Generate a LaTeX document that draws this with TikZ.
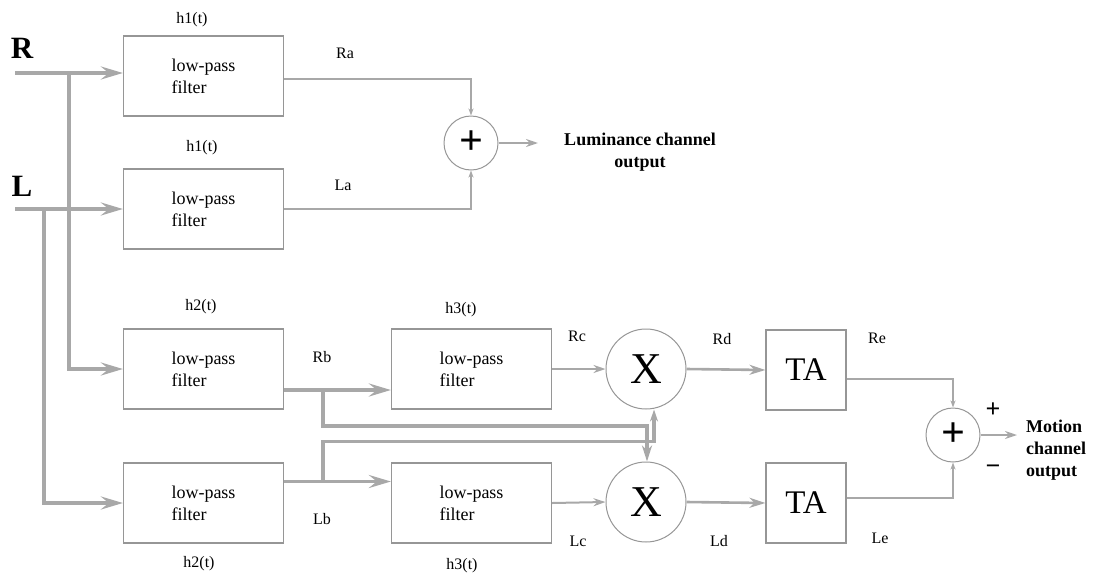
\documentclass[tikz,border=0pt]{standalone}
\usepackage{fontspec}
\setmainfont{Liberation Serif}
\usetikzlibrary{positioning,calc,arrows.meta}
\definecolor{wiregray}{RGB}{168,168,168}
\definecolor{boxgray}{RGB}{150,150,150}
\tikzset{
  lpf/.style={draw=boxgray, line width=1.2pt, minimum width=160pt, minimum height=80pt,
    inner sep=0pt, align=left, font=\fontsize{18}{22}\selectfont},
  tabox/.style={draw=boxgray, line width=1.2pt, minimum width=80pt, minimum height=80pt,
    inner sep=0pt, font=\fontsize{33}{33}\selectfont},
  mulnode/.style={circle, draw=boxgray, line width=1pt, minimum size=80pt, inner sep=0pt,
    font=\fontsize{44}{44}\selectfont},
  sumnode/.style={circle, draw=boxgray, line width=1pt, minimum size=54pt, inner sep=0pt,
    font=\fontsize{42}{42}\selectfont\bfseries},
  lbl/.style={font=\fontsize{16}{16}\selectfont, inner sep=0pt},
  inlbl/.style={font=\fontsize{31}{31}\selectfont\bfseries, inner sep=0pt},
  outlbl/.style={font=\fontsize{18}{22}\selectfont\bfseries, inner sep=0pt},
  signlbl/.style={font=\fontsize{26}{26}\selectfont\bfseries, inner sep=0pt},
  pipe/.style={draw=wiregray, line width=3.5pt},
  midwire/.style={draw=wiregray, line width=2.6pt},
  wire/.style={draw=wiregray, line width=2pt},
  fine/.style={draw=wiregray, line width=1.4pt},
  bigtip/.style={-{Stealth[length=22pt,width=13pt,inset=8pt]}},
  midtip/.style={-{Stealth[length=16pt,width=10pt,inset=5pt]}},
  smalltip/.style={-{Stealth[length=12pt,width=8pt,inset=4pt]}},
  tinytip/.style={-{Stealth[length=7pt,width=5pt,inset=2pt]}}
}

\begin{document}
\begin{tikzpicture}[x=1pt,y=-1pt]
    \useasboundingbox (0,0) rectangle (1094,576);

    % Inputs
    \node[inlbl] (inR) at (22,48) {R};
    \node[inlbl] (inL) at (22,186) {L};
    \coordinate (rstart) at (15,73);
    \coordinate (lstart) at (15,209);
    \coordinate (rsplit) at (69,73);
    \coordinate (lsplit) at (44,209);

    % Filter boxes
    \node[lpf] (lpfR1) at (203.5,76) {low-pass\\filter};
    \node[lpf] (lpfL1) at (203.5,209) {low-pass\\filter};
    \node[lpf] (lpfR2) at (203.5,369) {low-pass\\filter};
    \node[lpf] (lpfL2) at (203.5,503) {low-pass\\filter};
    \node[lpf] (lpfR3) at (471.5,369) {low-pass\\filter};
    \node[lpf] (lpfL3) at (471.5,503) {low-pass\\filter};

    % Multipliers and temporal averaging
    \node[mulnode] (mulR) at (646,369) {X};
    \node[mulnode] (mulL) at (646,502) {X};
    \node[tabox] (taR) at (806,370) {TA};
    \node[tabox] (taL) at (806,503) {TA};

    % Adders
    \node[sumnode] (sumLum) at (471,143) {+};
    \node[sumnode] (sumMot) at (953,435) {+};

    % Filter names
    \node[lbl] (h1R) at (192,20) {h1(t)};
    \node[lbl] (h1L) at (202,148) {h1(t)};
    \node[lbl] (h2R) at (201,307) {h2(t)};
    \node[lbl] (h2L) at (199,564) {h2(t)};
    \node[lbl] (h3R) at (461,310) {h3(t)};
    \node[lbl] (h3L) at (462,566) {h3(t)};

    % Signal names
    \node[lbl] (sRa) at (345,53) {Ra};
    \node[lbl] (sLa) at (343,185) {La};
    \node[lbl] (sRb) at (322,357) {Rb};
    \node[lbl] (sLb) at (322,519) {Lb};
    \node[lbl] (sRc) at (577,336) {Rc};
    \node[lbl] (sLc) at (578,541) {Lc};
    \node[lbl] (sRd) at (722,339) {Rd};
    \node[lbl] (sLd) at (719,541) {Ld};
    \node[lbl] (sRe) at (877,338) {Re};
    \node[lbl] (sLe) at (880,538) {Le};

    % Input lines
    \draw[pipe,bigtip] (rstart) -- (rstart -| lpfR1.west);
    \draw[pipe,bigtip] (rsplit) |- (lpfR2.west);
    \draw[pipe,bigtip] (lstart) -- (lpfL1.west);
    \draw[pipe,bigtip] (lsplit) |- (lpfL2.west);

    % Luminance channel
    \draw[fine,tinytip] ([yshift=-3pt]lpfR1.east) -| (sumLum.north);
    \draw[fine,tinytip] (lpfL1.east) -| (sumLum.south);
    \coordinate (lumend) at (538,143);
    \draw[wire,smalltip] (sumLum.east) -- (lumend);
    \node[outlbl, align=center] (lumtxt) at (640,152) {Luminance channel\\output};

    % Motion channel, second filters
    \coordinate (rbout) at ([yshift=-21pt]lpfR2.east);
    \coordinate (lbout) at ([yshift=21.5pt]lpfL2.east);
    \draw[pipe,bigtip] (rbout) -- (rbout -| lpfR3.west);
    \draw[pipe,bigtip] (lbout) -- (lbout -| lpfL3.west);

    % Cross branches
    \coordinate (rbsplit) at ([xshift=39pt]rbout);
    \coordinate (lbsplit) at ([xshift=39pt]lbout);
    \draw[pipe,midtip] (rbsplit) -- ++(0,36) -| ([xshift=1pt]mulL.north);
    \draw[pipe,smalltip] (lbsplit) -- ++(0,-40) -| ([xshift=8pt]mulR.south);

    % To multipliers and TA
    \draw[wire,smalltip] (lpfR3.east) -- (mulR.west);
    \draw[wire,smalltip] (lpfL3.east) -- (mulL.west);
    \draw[midwire,midtip] (mulR.east) -- (taR.west);
    \draw[midwire,midtip] (mulL.east) -- (taL.west);

    % Opponent stage
    \draw[fine,tinytip] ([yshift=-9pt]taR.east) -| (sumMot.north);
    \draw[fine,tinytip] ([yshift=5pt]taL.east) -| (sumMot.south);
    \node[signlbl] (plus) at (993,410) {+};
    \node[signlbl] (minus) at (993,470) {−};
    \coordinate (motend) at (1017,435);
    \draw[wire,smalltip] (sumMot.east) -- (motend);
    \node[outlbl, align=left, anchor=west] (mottxt) at (1026,450) {Motion\\channel\\output};
\end{tikzpicture}
\end{document}
